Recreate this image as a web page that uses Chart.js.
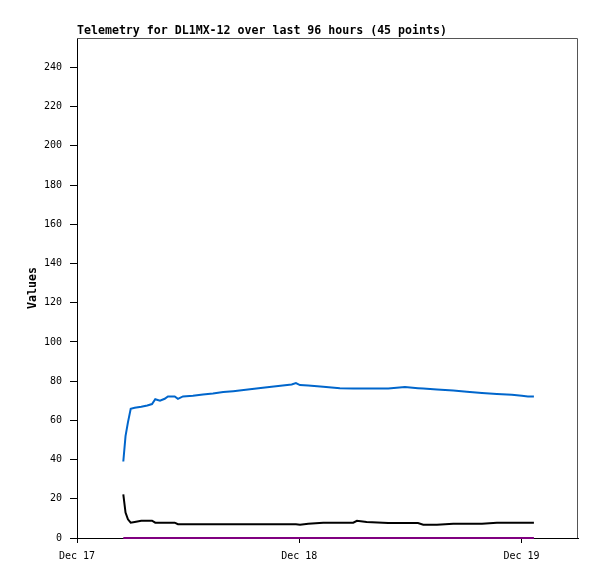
<!DOCTYPE html>
<html>
<head>
<meta charset="utf-8">
<title>Telemetry DL1MX-12</title>
<script src="https://cdn.jsdelivr.net/npm/chart.js@4.4.1/dist/chart.umd.min.js"></script>
<style>
  html, body { margin: 0; padding: 0; background: #fff; }
  #wrap { width: 597px; height: 579px; }
</style>
</head>
<body>
<div id="wrap"><canvas id="telemetryChart" width="597" height="579"></canvas></div>
<script>
// hours since Dec 17 00:00
const hours = [
  5.0, 5.24, 5.5, 5.8, 6.23, 6.94, 7.59, 8.1, 8.45, 8.96,
  9.47, 9.82, 10.55, 10.9, 11.44, 12.52, 13.6, 14.68, 15.79, 16.87,
  18.68, 20.3, 21.73, 23.18, 23.64, 24.08, 24.97, 26.59, 28.39, 29.83,
  30.23, 31.28, 33.61, 35.41, 36.82, 37.39, 38.87, 40.63, 42.1, 43.73,
  45.34, 46.96, 48.04, 48.69, 49.34
];
const blueValues = [
  39, 52, 59, 65.9, 66.4, 66.9, 67.6, 68.3, 70.8, 70,
  71, 72.2, 72.2, 71, 72.2, 72.5, 73.2, 73.7, 74.4, 74.9,
  75.9, 76.8, 77.5, 78.3, 79, 78, 77.8, 77.1, 76.4, 76.3,
  76.3, 76.3, 76.3, 77, 76.4, 76.2, 75.7, 75.2, 74.6, 74,
  73.5, 73, 72.5, 72.2, 72.2
];
const blackValues = [
  22.3, 13, 9.5, 7.8, 8.2, 8.8, 8.8, 8.8, 7.8, 7.8,
  7.8, 7.8, 7.8, 7, 7, 7, 7, 7, 7, 7,
  7, 7, 7, 7, 7, 6.8, 7.3, 7.8, 7.8, 7.8,
  8.8, 8.2, 7.7, 7.7, 7.6, 6.8, 6.8, 7.3, 7.3, 7.3,
  7.8, 7.8, 7.8, 7.8, 7.8
];
const purpleValues = [
  0, 0, 0, 0, 0, 0, 0, 0, 0, 0,
  0, 0, 0, 0, 0, 0, 0, 0, 0, 0,
  0, 0, 0, 0, 0, 0, 0, 0, 0, 0,
  0, 0, 0, 0, 0, 0, 0, 0, 0, 0,
  0, 0, 0, 0, 0
];
const dayTicks = [0, 24, 48];
const dayLabels = ["Dec 17", "Dec 18", "Dec 19"];
const valueTicks = [0, 20, 40, 60, 80, 100, 120, 140, 160, 180, 200, 220, 240];

const titleText = "Telemetry for DL1MX-12 over last 96 hours (45 points)";
const mono = "'DejaVu Sans Mono', 'Liberation Mono', monospace";

function toPoints(vals) {
  return vals.map((v, i) => ({ x: hours[i], y: v }));
}

/* frame + title */
const framePlugin = {
  id: "frame",
  beforeDatasetsDraw(chart) {
    const { ctx, chartArea: a } = chart;
    ctx.save();
    ctx.strokeStyle = "#555555";
    ctx.lineWidth = 1;
    ctx.beginPath();
    ctx.moveTo(a.left, a.top + 0.5);
    ctx.lineTo(a.right - 0.5, a.top + 0.5);
    ctx.lineTo(a.right - 0.5, a.bottom);
    ctx.stroke();
    ctx.restore();
  },
  afterDraw(chart) {
    const { ctx, chartArea: a } = chart;
    ctx.save();
    ctx.fillStyle = "#000";
    ctx.font = "bold 11.6px " + mono;
    ctx.textBaseline = "middle";
    ctx.textAlign = "left";
    ctx.fillText(titleText, a.left, 31);
    ctx.restore();
  }
};

const lineStyle = {
  borderWidth: 2,
  pointRadius: 0,
  tension: 0,
  fill: false,
  clip: false
};

new Chart(document.getElementById("telemetryChart"), {
  type: "line",
  data: {
    datasets: [
      { label: "ch1", data: toPoints(blueValues), borderColor: "#0066cc", ...lineStyle },
      { label: "ch2", data: toPoints(blackValues), borderColor: "#000000", ...lineStyle },
      { label: "ch3", data: toPoints(purpleValues), borderColor: "#800080", ...lineStyle }
    ]
  },
  options: {
    responsive: false,
    animation: false,
    layout: { padding: { top: 38, right: 19, left: 0, bottom: 0 } },
    plugins: {
      legend: { display: false },
      tooltip: { enabled: false },
      title: { display: false }
    },
    scales: {
      x: {
        type: "linear",
        min: 0,
        max: 54.1,
        afterBuildTicks: s => { s.ticks = dayTicks.map(v => ({ value: v })); },
        afterFit: s => { s.height = 41; },
        ticks: {
          color: "#000",
          font: { family: mono, size: 10 },
          padding: 7,
          maxRotation: 0,
          autoSkip: false,
          callback: v => dayLabels[dayTicks.indexOf(v)]
        },
        grid: { drawOnChartArea: false, color: "#000", tickLength: 5 },
        border: { color: "#000", width: 1 }
      },
      y: {
        min: 0,
        max: 255,
        afterBuildTicks: s => { s.ticks = valueTicks.map(v => ({ value: v })); },
        afterFit: s => { s.width = 77; },
        ticks: {
          color: "#000",
          font: { family: mono, size: 10 },
          padding: 8
        },
        grid: { drawOnChartArea: false, color: "#000", tickLength: 7 },
        border: { color: "#000", width: 1 },
        title: {
          display: true,
          text: "Values",
          color: "#000",
          font: { family: mono, size: 11.6, weight: "bold" },
          padding: { top: 26, bottom: 0 }
        }
      }
    }
  },
  plugins: [framePlugin]
});
</script>
</body>
</html>
